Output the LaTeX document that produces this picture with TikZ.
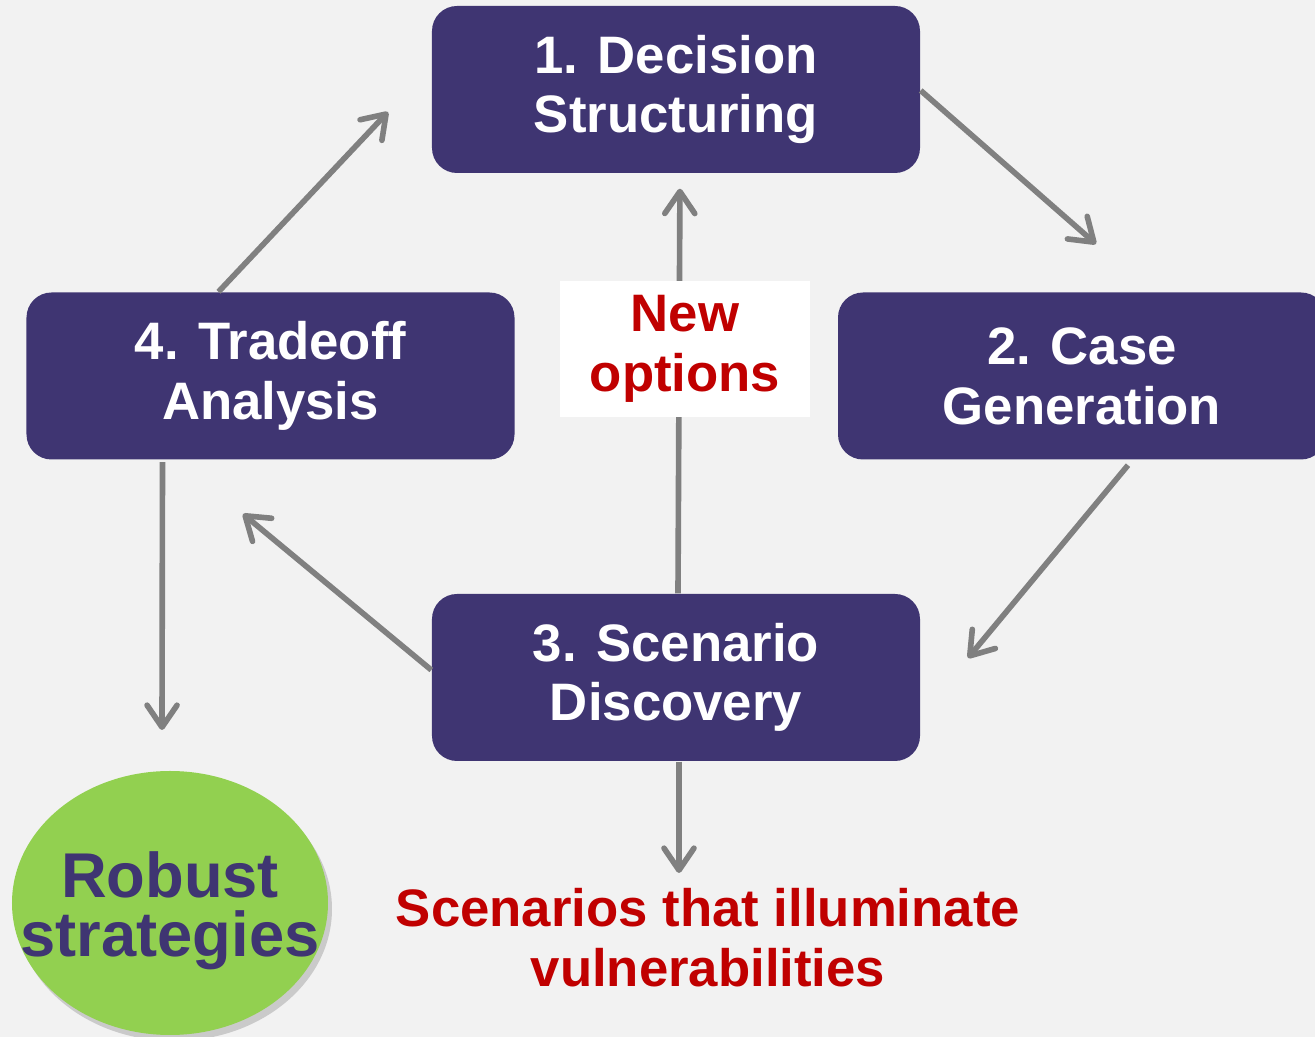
\documentclass[tikz,border=0pt]{standalone}
\usepackage{fontspec}
\setmainfont{Liberation Sans}
\usetikzlibrary{positioning,arrows.meta,shadows,shapes.geometric}
\definecolor{boxcolor}{HTML}{3F3572}
\definecolor{bgcolor}{HTML}{F2F2F2}
\definecolor{robustcolor}{HTML}{92D050}
\definecolor{redtext}{HTML}{C00000}
\definecolor{arrowcolor}{HTML}{808080}

\begin{document}
\begin{tikzpicture}[
    stagebox/.style={fill=boxcolor, rounded corners=0.25cm, minimum width=4.88cm, minimum height=1.67cm,
        inner sep=0pt, text=white, align=center, font=\fontsize{15}{17}\selectfont\bfseries},
    redlabel/.style={text=redtext, align=center, font=\fontsize{15}{17}\selectfont\bfseries},
    flow/.style={draw=arrowcolor, line width=1.6pt, -{Straight Barb[length=2.2mm, width=3mm, round]}}
]
    \fill[bgcolor] (0,0) rectangle (13.15,-10.37);
    \useasboundingbox (0,0) rectangle (13.15,-10.37);
    \clip (0,0) rectangle (13.15,-10.37);

    \node[stagebox] at (6.76,-0.895) (Decision) {1. Decision\\Structuring};
    \node[stagebox] at (10.82,-3.76) (Case) {2. Case\\Generation};
    \node[stagebox] at (6.76,-6.775) (Scenario) {3. Scenario\\Discovery};
    \node[stagebox] at (2.705,-3.76) (Tradeoff) {4. Tradeoff\\Analysis};

    \node[ellipse, fill=robustcolor, minimum width=3.16cm, minimum height=2.64cm, inner sep=0pt,
        drop shadow={opacity=0.35, shadow xshift=0.04cm, shadow yshift=-0.06cm}]
        at (1.70,-9.03) (Robust) {};
    \node[text=boxcolor, align=center, font=\fontsize{18}{16.8}\selectfont\bfseries]
        at ([yshift=-0.08cm]Robust.center) (RobustText) {Robust\\strategies};
    \node[redlabel] at (7.08,-9.38) (Vulnerable) {Scenarios that illuminate\\vulnerabilities};

    \coordinate (CaseIn) at (10.96,-2.44);
    \coordinate (ScenarioIn) at (9.68,-6.58);
    \coordinate (TradeoffIn) at (2.43,-5.14);
    \coordinate (DecisionIn) at (3.88,-1.12);
    \coordinate (VulnerableIn) at (6.79,-8.73);
    \coordinate (RobustIn) at (1.62,-7.30);

    % cycle
    \draw[flow] ([yshift=-0.01cm]Decision.east) -- (CaseIn);
    \draw[flow] ([xshift=0.46cm, yshift=-0.05cm]Case.south) -- (ScenarioIn);
    \draw[flow] ([yshift=0.075cm]Scenario.west) -- (TradeoffIn);
    \draw[flow] ([xshift=-0.52cm]Tradeoff.north) -- (DecisionIn);

    % outputs
    \draw[flow, shorten >=0.15cm] ([xshift=0.02cm]Scenario.north) -- ([xshift=0.04cm]Decision.south);
    \draw[flow] ([xshift=0.03cm]Scenario.south) -- (VulnerableIn);
    \draw[flow] ([xshift=-1.08cm, yshift=-0.02cm]Tradeoff.south) -- (RobustIn);

    \node[redlabel, fill=white, minimum width=2.5cm, minimum height=1.36cm, inner sep=0pt]
        at (6.85,-3.49) (NewOptions) {New\\options};
\end{tikzpicture}
\end{document}
